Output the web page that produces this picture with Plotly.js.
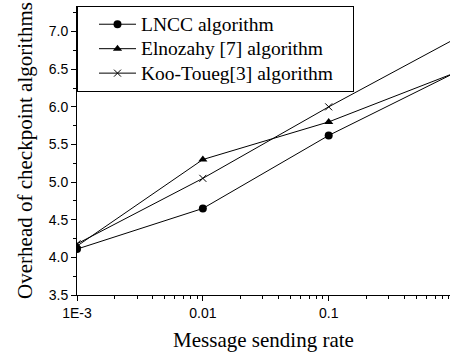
<!DOCTYPE html>
<html>
<head>
<meta charset="utf-8">
<script src="https://cdn.plot.ly/plotly-3.0.1.min.js"></script>
<style>html,body{margin:0;padding:0;background:#fff;}#chart{width:450px;height:352px;}</style>
</head>
<body>
<div id="chart"></div>
<script>
const rates = [0.001, 0.01, 0.1, 1];
const lncc = [4.11, 4.65, 5.62, 6.45];
const elnozahy = [4.15, 5.3, 5.8, 6.45];
const kooToueg = [4.18, 5.05, 6.0, 6.9];
const seriesNames = ['LNCC algorithm', 'Elnozahy [7] algorithm', 'Koo-Toueg[3] algorithm'];
const xTickAlias = {'0.001': '1E-3'};

const pad = '\u00a0\u00a0\u00a0';
const big = s => '<span style="font-size:19.5px">' + s + '</span>';
const lineStyle = {color: '#000', width: 1};
const traces = [
  {x: rates, y: lncc, name: big(seriesNames[0]), mode: 'lines+markers', line: lineStyle,
   marker: {symbol: 'circle', size: 8, color: '#000'}},
  {x: rates, y: elnozahy, name: big(seriesNames[1]), mode: 'lines+markers', line: lineStyle,
   marker: {symbol: 'triangle-up', size: 8, color: '#000'}},
  {x: rates, y: kooToueg, name: big(seriesNames[2] + pad), mode: 'lines+markers', line: lineStyle,
   marker: {symbol: 'x-thin', size: 7, color: '#000', line: {color: '#000', width: 1}}}
];

const layout = {
  width: 450, height: 352,
  margin: {l: 77, r: 0, t: 6, b: 57},
  paper_bgcolor: '#fff', plot_bgcolor: '#fff',
  showlegend: true,
  legend: {
    x: 0, y: 1, xanchor: 'left', yanchor: 'top',
    bordercolor: '#000', borderwidth: 1, bgcolor: '#fff',
    font: {family: 'Liberation Serif, Times New Roman, serif', size: 16.5, color: '#000'},
    tracegroupgap: 0, itemwidth: 37, indentation: 16
  },
  xaxis: {
    type: 'log', range: [-3, Math.log10(0.92)],
    showgrid: false, zeroline: false,
    showline: true, linecolor: '#000', linewidth: 1,
    ticks: 'outside', ticklen: 5, tickcolor: '#000',
    tickmode: 'linear', tick0: 0, dtick: 1,
    labelalias: xTickAlias,
    tickfont: {family: 'Liberation Sans, Arial, sans-serif', size: 14, color: '#000'},
    minor: {ticks: 'outside', ticklen: 3, tickcolor: '#000', dtick: 'D1', showgrid: false},
    title: {text: 'Message sending rate', standoff: 14,
      font: {family: 'Liberation Serif, Times New Roman, serif', size: 21, color: '#000'}}
  },
  yaxis: {
    range: [3.5, 7.34],
    showgrid: false, zeroline: false,
    showline: true, linecolor: '#000', linewidth: 1,
    ticks: 'outside', ticklen: 5, tickcolor: '#000',
    dtick: 0.5, tick0: 3.5, tickformat: '.1f',
    tickfont: {family: 'Liberation Sans, Arial, sans-serif', size: 14, color: '#000'},
    minor: {ticks: 'outside', ticklen: 3, tickcolor: '#000', dtick: 0.25, showgrid: false},
    title: {text: 'Overhead of checkpoint algorithms', standoff: 10,
      font: {family: 'Liberation Serif, Times New Roman, serif', size: 21, color: '#000'}}
  }
};

Plotly.newPlot('chart', traces, layout, {displayModeBar: false, staticPlot: true});
</script>
</body>
</html>
